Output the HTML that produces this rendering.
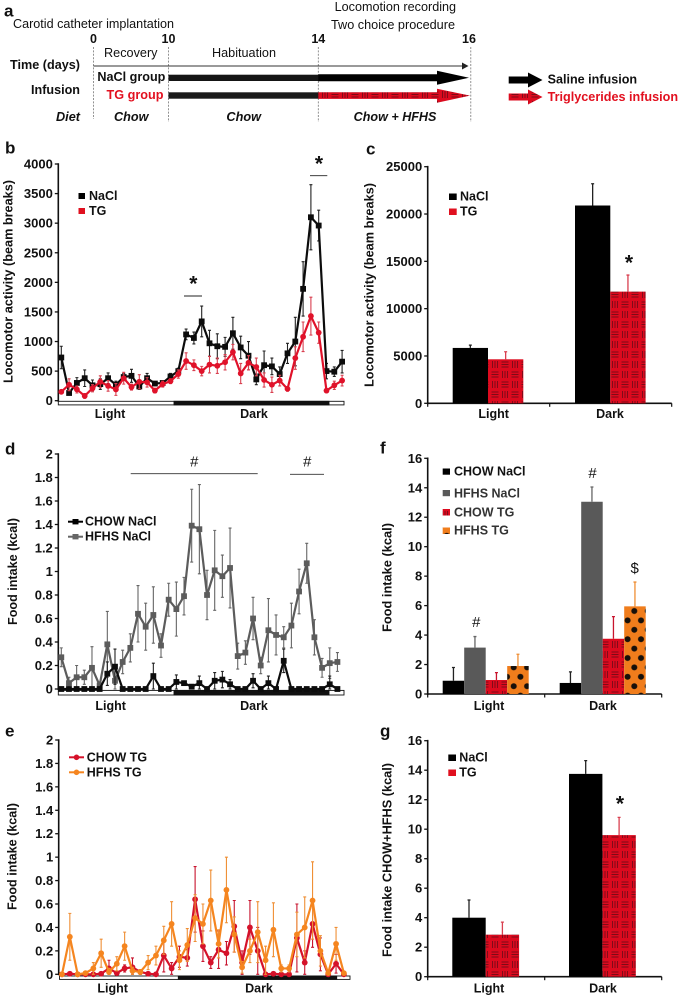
<!DOCTYPE html>
<html lang="en">
<head>
<meta charset="utf-8">
<title>Locomotor activity and food intake figure</title>
<style>
html,body{margin:0;padding:0;background:#fff;}
svg{display:block;font-family:"Liberation Sans",Arial,sans-serif;filter:blur(0.35px);}
text{fill:#111;}
.b{font-weight:bold;}
.c{dominant-baseline:central;}
</style>
</head>
<body>
<svg id="fig" width="679" height="996" viewBox="0 0 679 996" xmlns="http://www.w3.org/2000/svg">
<defs>
<pattern id="hatch" patternUnits="userSpaceOnUse" width="20" height="20">
<rect width="20" height="20" fill="#dc0a1e"/>
<g stroke="#7d0b18" stroke-width="0.95" fill="none">
<path d="M1.5 2H8.5M1.5 4.5H8.5M1.5 7H8.5"/>
<path d="M12.5 1V8M15 1V8M17.5 1V8"/>
<path d="M2.5 11V18M5 11V18M7.5 11V18"/>
<path d="M11.5 12H18.5M11.5 14.5H18.5M11.5 17H18.5"/>
</g>
</pattern>
<pattern id="dots" patternUnits="userSpaceOnUse" width="13.4" height="18.8" patternTransform="translate(1.15 4.7)">
<rect width="13.4" height="18.8" fill="#f07d1c"/>
<circle cx="3.35" cy="4.7" r="3" fill="#17100a"/>
<circle cx="10.05" cy="14.1" r="3" fill="#17100a"/>
</pattern>
</defs>

<g id="panel-a">
<text class="b c" x="4" y="11" font-size="17">a</text>
<text class="c" x="13" y="24" font-size="12.5" textLength="161" lengthAdjust="spacingAndGlyphs">Carotid catheter implantation</text>
<text class="c" x="334.6" y="7" font-size="12.5" textLength="121.5" lengthAdjust="spacingAndGlyphs">Locomotion recording</text>
<text class="c" x="331" y="25" font-size="12.5" textLength="124" lengthAdjust="spacingAndGlyphs">Two choice procedure</text>
<g class="b" font-size="12.5" text-anchor="middle">
<text class="c" x="93.5" y="39">0</text>
<text class="c" x="168.5" y="39">10</text>
<text class="c" x="318.3" y="39">14</text>
<text class="c" x="469" y="39">16</text>
</g>
<g stroke="#777" stroke-width="0.8" stroke-dasharray="2 1.4" fill="none">
<path d="M93.5 47V119M168.5 47V122M318.3 47V122M470.8 47V122"/>
</g>
<text class="c" x="104" y="53" font-size="12.5" textLength="53.5" lengthAdjust="spacingAndGlyphs">Recovery</text>
<text class="c" x="212" y="53" font-size="12.5" textLength="64" lengthAdjust="spacingAndGlyphs">Habituation</text>
<text class="b c" x="10" y="65" font-size="12.5" textLength="70" lengthAdjust="spacingAndGlyphs">Time (days)</text>
<text class="b c" x="31" y="90" font-size="12.5" textLength="49" lengthAdjust="spacingAndGlyphs">Infusion</text>
<text class="b c" x="97.4" y="77" font-size="12.5" textLength="68" lengthAdjust="spacingAndGlyphs">NaCl group</text>
<text class="b c" x="106.5" y="95" font-size="12.5" textLength="57" lengthAdjust="spacingAndGlyphs" style="fill:#e2101f">TG group</text>
<g class="b" font-size="12.5" font-style="italic">
<text class="c" x="56" y="117" textLength="24" lengthAdjust="spacingAndGlyphs">Diet</text>
<text class="c" x="114" y="117" textLength="34.5" lengthAdjust="spacingAndGlyphs">Chow</text>
<text class="c" x="226.4" y="117" textLength="34.6" lengthAdjust="spacingAndGlyphs">Chow</text>
<text class="c" x="353.7" y="117" textLength="82.7" lengthAdjust="spacingAndGlyphs">Chow + HFHS</text>
</g>
<path d="M93.5 66H464" stroke="#333" stroke-width="1"/>
<polygon points="462,62.5 468.5,66 462,69.5" fill="#222"/>
<rect x="168.5" y="74.7" width="150" height="6.3" fill="#151515"/>
<polygon points="318.3,74.3 437,74.3 437,70.7 469,77.8 437,84.7 437,81.2 318.3,81.2" fill="#000"/>
<rect x="168.5" y="92.3" width="150" height="6.4" fill="#1a1a1a"/>
<polygon points="318.3,92.3 437,92.3 437,88.7 470,95.6 437,102.7 437,98.9 318.3,98.9" fill="url(#hatch)"/>
<polygon points="508.7,76.5 528,76.5 528,72.5 542.5,80 528,87.5 528,83.5 508.7,83.5" fill="#000"/>
<text class="b c" x="547.6" y="79.5" font-size="12.5" textLength="89.5" lengthAdjust="spacingAndGlyphs">Saline infusion</text>
<polygon points="508.7,93.5 528,93.5 528,89.5 542.5,97 528,104.5 528,100.5 508.7,100.5" fill="url(#hatch)"/>
<text class="b c" x="547.6" y="97" font-size="12.5" textLength="130.5" lengthAdjust="spacingAndGlyphs" style="fill:#e2101f">Triglycerides infusion</text>
</g>

<g class="b" font-size="17">
<text class="c" x="5" y="148">b</text>
<text class="c" x="366" y="149">c</text>
<text class="c" x="5" y="449">d</text>
<text class="c" x="5" y="731">e</text>
<text class="c" x="380" y="448">f</text>
<text class="c" x="380" y="731">g</text>
</g>

<g>
<text class="b c" x="193.3" y="284" font-size="21" text-anchor="middle">*</text>
<path d="M184 296H202" stroke="#222" stroke-width="0.9"/>
<text class="b c" x="319" y="164" font-size="21" text-anchor="middle">*</text>
<path d="M310 175.7H327.3" stroke="#222" stroke-width="0.9"/>
<text class="b c" x="629" y="263" font-size="21" text-anchor="middle">*</text>
<text class="b c" x="620" y="804" font-size="21" text-anchor="middle">*</text>
<text class="c" x="194" y="462" font-size="15" font-style="italic" text-anchor="middle">#</text>
<path d="M130.7 473.7H257.7" stroke="#333" stroke-width="0.8"/>
<text class="c" x="307" y="462" font-size="15" font-style="italic" text-anchor="middle">#</text>
<path d="M290 474.3H324" stroke="#333" stroke-width="0.8"/>
<text class="c" x="476" y="622.7" font-size="15" font-style="italic" text-anchor="middle">#</text>
<text class="c" x="592.3" y="473.3" font-size="15" font-style="italic" text-anchor="middle">#</text>
<text class="c" x="634.7" y="568.3" font-size="15" text-anchor="middle">$</text>
</g>

<g>
<rect x="78.5" y="193" width="6.5" height="6" fill="#000"/>
<text class="b c" x="89" y="196" font-size="12.5">NaCl</text>
<rect x="78.5" y="208" width="6.5" height="6" fill="#e0101f"/>
<text class="b c" x="89" y="211" font-size="12.5">TG</text>
</g>
<g>
<rect x="449" y="193.5" width="7.7" height="6.5" fill="#000"/>
<text class="b c" x="460" y="196.7" font-size="12.5">NaCl</text>
<rect x="449" y="208.5" width="7.7" height="6.5" fill="#e0101f"/>
<text class="b c" x="460" y="211.7" font-size="12.5">TG</text>
</g>
<g>
<path d="M68 521.7H83" stroke="#000" stroke-width="2"/>
<rect x="72.5" y="519" width="6" height="5.4" fill="#000"/>
<text class="b c" x="85" y="521.7" font-size="12.5">CHOW NaCl</text>
<path d="M68 536.7H83" stroke="#666" stroke-width="2"/>
<rect x="72.5" y="534" width="6" height="5.4" fill="#666"/>
<text class="b c" x="85" y="536.7" font-size="12.5">HFHS NaCl</text>
</g>
<g>
<path d="M69 757.3H84" stroke="#d5122a" stroke-width="2"/>
<circle cx="76.5" cy="757.3" r="2.8" fill="#d5122a"/>
<text class="b c" x="86.7" y="757.3" font-size="12.5">CHOW TG</text>
<path d="M69 772.3H84" stroke="#f5851f" stroke-width="2"/>
<circle cx="76.5" cy="772.3" r="2.8" fill="#f5851f"/>
<text class="b c" x="86.7" y="772.3" font-size="12.5">HFHS TG</text>
</g>
<g>
<rect x="442.7" y="468.5" width="7.3" height="6.2" fill="#000"/>
<text class="b c" x="454" y="471.7" font-size="12.5">CHOW NaCl</text>
<rect x="442.7" y="490" width="7.3" height="6.2" fill="#595959"/>
<text class="b c" x="454" y="493.3" font-size="12.5" style="fill:#333">HFHS NaCl</text>
<rect x="442.7" y="509" width="7.3" height="6.5" fill="url(#hatch)"/>
<text class="b c" x="454" y="512.3" font-size="12.5" style="fill:#333">CHOW TG</text>
<rect x="442.7" y="527.5" width="7.3" height="6.5" fill="url(#dots)"/>
<text class="b c" x="454" y="530.7" font-size="12.5" style="fill:#333">HFHS TG</text>
</g>
<g>
<rect x="448.3" y="754.5" width="7.7" height="6.5" fill="#000"/>
<text class="b c" x="459.3" y="757.7" font-size="12.5">NaCl</text>
<rect x="448.3" y="769.5" width="7.7" height="6.5" fill="#e0101f"/>
<text class="b c" x="459.3" y="772.7" font-size="12.5">TG</text>
</g>
</svg>

<script>
// ----- Panel b: locomotor activity time course -----
const locoTicks = ['0','500','1000','1500','2000','2500','3000','3500','4000'];
const locoNaCl = [730,130,300,380,260,280,380,270,400,420,240,380,290,300,410,500,1120,1060,1340,970,920,910,1140,900,760,360,600,580,450,800,1000,1890,3100,2960,500,490,660];
const locoNaClErr = [190,30,90,140,90,90,90,60,60,110,50,80,30,40,50,50,90,100,260,220,210,160,270,190,240,90,240,140,120,170,410,460,550,260,130,80,190];
const locoTG = [150,270,190,80,210,320,250,190,380,230,320,310,170,280,330,450,670,600,500,610,590,650,820,460,640,570,350,270,340,200,720,1080,1430,1150,170,260,340];
const locoTGErr = [30,100,60,40,60,100,90,100,100,50,120,80,40,50,40,70,140,90,80,140,130,130,130,170,120,150,120,130,90,40,190,250,320,180,30,70,90];

// ----- Panel d: food intake, NaCl -----
const foodTicks = ['0','0.2','0.4','0.6','0.8','1','1.2','1.4','1.6','1.8','2'];
const hfhsNaCl = [.27,.05,.10,.10,.18,.03,.38,.07,.23,.35,.64,.53,.63,.37,.76,.68,.79,1.39,1.36,.80,1.01,.96,1.03,.28,.31,.60,.20,.50,.46,.44,.54,.83,1.07,.44,.18,.22,.23];
const hfhsNaClErr = [.08,.05,.10,.06,.18,.03,.28,.1,.1,.12,.24,.2,.24,.1,.14,.23,.16,.31,.38,.21,.34,.18,.34,.11,.1,.18,.07,.27,.17,.09,.19,.19,.17,.15,.08,.13,.08];
const chowNaCl = [0,0,0,0,0,0,.13,.19,0,0,0,0,.11,0,0,.06,.05,.02,.05,0,.07,.08,.04,0,0,.07,0,.05,0,.24,0,0,0,0,0,.04,0];
const chowNaClErr = [0,0,0,0,0,0,.1,.15,0,0,0,0,.11,0,0,.06,.01,.01,.06,0,.07,.07,.04,0,0,.06,0,.06,0,.1,0,0,0,0,0,.07,0];

// ----- Panel e: food intake, TG -----
const chowTG = [0,.005,0,0,0,.005,.05,.01,.05,.06,.02,.005,0,.16,.05,.15,.14,.64,.24,.10,.21,.18,.41,.10,.40,.20,0,.005,0,0,.31,.10,.43,.17,0,.09,0];
const chowTGErr = [0,.01,0,0,0,.01,.07,.01,.03,.08,.02,.01,0,.14,.05,.09,.07,.28,.13,.05,.16,.1,.22,.1,.23,.2,0,.01,0,0,.29,.1,.2,.14,0,.08,0];
const hfhsTG = [0,.32,0,.01,.05,.18,.02,.09,.24,.03,.02,.10,.16,.29,.43,.12,.25,.48,.43,.63,.26,.72,.34,.06,.20,.36,.12,.38,.05,.05,.34,.40,.63,.20,.01,.26,.01];
const hfhsTGErr = [0,.2,0,.01,.05,.12,.03,.06,.12,.03,.02,.06,.08,.12,.19,.08,.14,.2,.17,.26,.12,.28,.15,.05,.1,.26,.12,.23,.03,.03,.19,.26,.33,.13,.01,.14,.01];

// ----- Bar panels -----
const barCategories = ['Light','Dark'];
const cTicks = ['0','5000','10000','15000','20000','25000'];
const cNaCl = [5850,20900];
const cNaClErr = [300,2300];
const cTG = [4650,11800];
const cTGErr = [800,1750];
const kcalTicks = ['0','2','4','6','8','10','12','14','16'];
const fChowNaCl = [.9,.75];
const fChowNaClErr = [.9,.75];
const fHfhsNaCl = [3.15,13.05];
const fHfhsNaClErr = [.75,1.0];
const fChowTG = [.95,3.75];
const fChowTGErr = [.5,1.5];
const fHfhsTG = [1.9,5.95];
const fHfhsTGErr = [.8,1.65];
const gNaCl = [4.0,13.75];
const gNaClErr = [1.2,.9];
const gTG = [2.85,9.6];
const gTGErr = [.85,1.2];

const svg = document.getElementById('fig');
const NS = 'http://www.w3.org/2000/svg';

function mk(tag, attrs, parent) {
  const el = document.createElementNS(NS, tag);
  for (const k in attrs) el.setAttribute(k, attrs[k]);
  parent.appendChild(el);
  return el;
}

function yScale(p, v) {
  return p.bottom - (v / p.max) * (p.bottom - p.top);
}
function xScale(p, i) {
  return p.x0 + i * p.step;
}

function panelGroup(name) {
  const g = mk('g', {}, svg);
  
  
  return g;
}

function drawYAxis(p, g, ticks) {
  const axis = mk('line', {x1: p.axisX, x2: p.axisX, y1: p.top - 0.8, y2: p.bottom + 1, stroke: '#111', 'stroke-width': 1.6}, g);
  
  
  ticks.forEach(function (t) {
    const y = yScale(p, parseFloat(t));
    const tick = mk('line', {x1: p.axisX - 3.5, x2: p.axisX, y1: y, y2: y, stroke: '#111', 'stroke-width': 1.3}, g);
    
    
    const label = mk('text', {x: p.axisX - 5.5, y: y, 'text-anchor': 'end', 'font-size': 13, 'font-weight': 'bold', 'dominant-baseline': 'central'}, g);
    label.textContent = t;
    
    
  });
}

function drawYTitle(g, text, x, y1, y2) {
  const mid = (y1 + y2) / 2;
  const title = mk('text', {x: x, y: mid, transform: 'rotate(-90 ' + x + ' ' + mid + ')', 'text-anchor': 'middle', 'font-size': 13, 'font-weight': 'bold', 'dominant-baseline': 'central', textLength: y2 - y1, lengthAdjust: 'spacingAndGlyphs'}, g);
  title.textContent = text;
  
  
}

function drawCategoryLabel(g, text, x, y) {
  const label = mk('text', {x: x, y: y, 'text-anchor': 'middle', 'font-size': 12.5, 'font-weight': 'bold', 'dominant-baseline': 'central'}, g);
  label.textContent = text;
  
  
}

function drawStrip(p, g) {
  const s = p.strip;
  const outline = mk('rect', {x: s.start, y: s.y, width: s.end - s.start, height: s.h, fill: '#fff', stroke: '#111', 'stroke-width': 0.9}, g);
  
  
  const dark = mk('rect', {x: s.darkStart, y: s.y, width: s.darkEnd - s.darkStart, height: s.h, fill: '#111', stroke: '#111', 'stroke-width': 0.9}, g);
  
  
}

function drawSeries(p, g, values, errors, style, name) {
  const errG = mk('g', {stroke: style.err, 'stroke-width': 1.1, fill: 'none'}, g);
  
  
  values.forEach(function (v, i) {
    const e = errors[i];
    if (!e) return;
    const x = xScale(p, i);
    const hi = yScale(p, v + e);
    const lo = yScale(p, Math.max(0, v - e));
    const bar = mk('path', {d: 'M' + x + ' ' + lo + 'V' + hi + 'M' + (x - 1.5) + ' ' + hi + 'H' + (x + 1.5) + 'M' + (x - 1.5) + ' ' + lo + 'H' + (x + 1.5)}, errG);
    
    
  });
  const pts = values.map(function (v, i) { return xScale(p, i) + ',' + yScale(p, v); }).join(' ');
  const line = mk('polyline', {points: pts, fill: 'none', stroke: style.color, 'stroke-width': 2.2, 'stroke-linejoin': 'round'}, g);
  
  
  values.forEach(function (v, i) {
    const x = xScale(p, i);
    const y = yScale(p, v);
    let marker;
    if (style.round) {
      marker = mk('circle', {cx: x, cy: y, r: 2.9, fill: style.color}, g);
    } else {
      marker = mk('rect', {x: x - 2.9, y: y - 2.9, width: 5.8, height: 5.8, fill: style.color}, g);
    }
    
    
  });
}

function drawBarAxis(p, g, ticks) {
  drawYAxis(p, g, ticks);
  const base = mk('line', {x1: p.axisX, x2: p.axisEnd, y1: p.bottom, y2: p.bottom, stroke: '#111', 'stroke-width': 1.6}, g);
  
  
  [p.axisX, (p.axisX + p.axisEnd) / 2, p.axisEnd].forEach(function (x) {
    const tick = mk('line', {x1: x, x2: x, y1: p.bottom, y2: p.bottom + 3.5, stroke: '#111', 'stroke-width': 1.2}, g);
    
    
  });
}

// group c = category index, s = series index within that category
function drawBar(p, g, c, s, v, e, style, name) {
  const barW = p.barW;
  const x = p.groupX[c] + s * barW;
  const y = yScale(p, v);
  const h = p.bottom - y;
  const errTop = yScale(p, v + e);
  const mid = x + barW / 2;
  const err = mk('path', {d: 'M' + mid + ' ' + y + 'V' + errTop + 'M' + (mid - 1.5) + ' ' + errTop + 'H' + (mid + 1.5), stroke: style.err, 'stroke-width': 1.3, fill: 'none'}, g);
  
  
  const bar = mk('rect', {x: x, y: y, width: barW, height: h, fill: style.fill}, g);
  
  
}

const styles = {
  black: {color: '#0c0c0c', err: '#222', fill: '#000'},
  red: {color: '#e0122a', err: '#d94050', round: true, fill: 'url(#hatch)'},
  gray: {color: '#5c5c5c', err: '#666', fill: '#595959'},
  deepRed: {color: '#d5122a', err: '#c8142e', round: true, fill: 'url(#hatch)'},
  orange: {color: '#f5851f', err: '#ef8f35', round: true, fill: 'url(#dots)'}
};

// Panel b
const pB = {axisX: 58.3, top: 164, bottom: 400.7, max: 4000, x0: 61.3, step: 7.8,
  strip: {start: 58.3, end: 344, darkStart: 174, darkEnd: 329, y: 401.3, h: 3.6}};
const gB = panelGroup('locomotor-time-chart');
drawYAxis(pB, gB, locoTicks);
drawYTitle(gB, 'Locomotor activity (beam breaks)', 8, 180, 383);
drawStrip(pB, gB);
drawSeries(pB, gB, locoNaCl, locoNaClErr, styles.black, 'nacl-series');
drawSeries(pB, gB, locoTG, locoTGErr, styles.red, 'tg-series');
drawCategoryLabel(gB, barCategories[0], 110, 414);
drawCategoryLabel(gB, barCategories[1], 254, 414);

// Panel c
const pC = {axisX: 427.7, axisEnd: 671.7, top: 166.7, bottom: 403.3, max: 25000, barW: 35.3, groupX: [452.7, 575]};
const gC = panelGroup('locomotor-bar-chart');
drawBarAxis(pC, gC, cTicks);
drawYTitle(gC, 'Locomotor activity (beam breaks)', 369, 183, 387);
barCategories.forEach(function (cat, c) {
  drawBar(pC, gC, c, 0, cNaCl[c], cNaClErr[c], styles.black, 'bar-nacl-' + cat.toLowerCase());
  drawBar(pC, gC, c, 1, cTG[c], cTGErr[c], styles.red, 'bar-tg-' + cat.toLowerCase());
});
drawCategoryLabel(gC, barCategories[0], 493.7, 414);
drawCategoryLabel(gC, barCategories[1], 610, 414);

// Panel d
const pD = {axisX: 58.3, top: 454, bottom: 689, max: 2, x0: 61.3, step: 7.67,
  strip: {start: 58.3, end: 344, darkStart: 174, darkEnd: 329, y: 690.4, h: 4.6}};
const gD = panelGroup('food-intake-nacl-chart');
drawYAxis(pD, gD, foodTicks);
drawYTitle(gD, 'Food intake (kcal)', 12.7, 518, 625);
drawStrip(pD, gD);
drawSeries(pD, gD, hfhsNaCl, hfhsNaClErr, styles.gray, 'hfhs-nacl-series');
drawSeries(pD, gD, chowNaCl, chowNaClErr, styles.black, 'chow-nacl-series');
drawCategoryLabel(gD, barCategories[0], 110.7, 706);
drawCategoryLabel(gD, barCategories[1], 254, 706);

// Panel e
const pE = {axisX: 58.7, top: 740, bottom: 974.3, max: 2, x0: 62, step: 7.83,
  strip: {start: 59.5, end: 350, darkStart: 178.3, darkEnd: 336.7, y: 976, h: 3.4}};
const gE = panelGroup('food-intake-tg-chart');
drawYAxis(pE, gE, foodTicks);
drawYTitle(gE, 'Food intake (kcal)', 12, 803, 910);
drawStrip(pE, gE);
drawSeries(pE, gE, chowTG, chowTGErr, styles.deepRed, 'chow-tg-series');
drawSeries(pE, gE, hfhsTG, hfhsTGErr, styles.orange, 'hfhs-tg-series');
drawCategoryLabel(gE, barCategories[0], 112.7, 988.7);
drawCategoryLabel(gE, barCategories[1], 259, 988.7);

// Panel f
const pF = {axisX: 427.7, axisEnd: 661.7, top: 458.3, bottom: 694, max: 16, barW: 21.5, groupX: [442.7, 559.7]};
const gF = panelGroup('food-intake-diet-bar-chart');
drawBarAxis(pF, gF, kcalTicks);
drawYTitle(gF, 'Food intake (kcal)', 387, 523, 632);
barCategories.forEach(function (cat, c) {
  const n = cat.toLowerCase();
  drawBar(pF, gF, c, 0, fChowNaCl[c], fChowNaClErr[c], styles.black, 'bar-chow-nacl-' + n);
  drawBar(pF, gF, c, 1, fHfhsNaCl[c], fHfhsNaClErr[c], styles.gray, 'bar-hfhs-nacl-' + n);
  drawBar(pF, gF, c, 2, fChowTG[c], fChowTGErr[c], styles.deepRed, 'bar-chow-tg-' + n);
  drawBar(pF, gF, c, 3, fHfhsTG[c], fHfhsTGErr[c], styles.orange, 'bar-hfhs-tg-' + n);
});
drawCategoryLabel(gF, barCategories[0], 489, 706);
drawCategoryLabel(gF, barCategories[1], 603, 706);

// Panel g
const pG = {axisX: 427.7, axisEnd: 661.7, top: 740.7, bottom: 976.7, max: 16, barW: 33.4, groupX: [452.3, 569]};
const gG = panelGroup('food-intake-total-bar-chart');
drawBarAxis(pG, gG, kcalTicks);
drawYTitle(gG, 'Food intake CHOW+HFHS (kcal)', 387, 763, 957);
barCategories.forEach(function (cat, c) {
  drawBar(pG, gG, c, 0, gNaCl[c], gNaClErr[c], styles.black, 'bar-nacl-' + cat.toLowerCase());
  drawBar(pG, gG, c, 1, gTG[c], gTGErr[c], styles.red, 'bar-tg-' + cat.toLowerCase());
});
drawCategoryLabel(gG, barCategories[0], 489, 988.7);
drawCategoryLabel(gG, barCategories[1], 603, 988.7);
</script>
</body>
</html>
